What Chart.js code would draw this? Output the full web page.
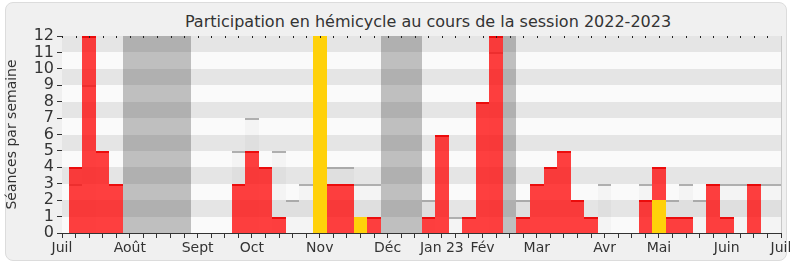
<!DOCTYPE html>
<html>
<head>
<meta charset="utf-8">
<script src="https://cdn.jsdelivr.net/npm/chart.js@4/dist/chart.umd.min.js"></script>
<style>
html, body { margin: 0; padding: 0; background: #fff; overflow: hidden; }
#cadre { position: relative; width: 790px; height: 267px; }
#panneau { position: absolute; left: 5px; top: 2px; width: 780px; height: 257px; background: #f0f0f0; border: 1px solid #dcdcdc; border-radius: 8px; }
#titre { position: absolute; left: 428px; top: 12px; transform: translateX(-50%); white-space: nowrap; font: 16px "DejaVu Sans"; line-height: 19px; color: #333; }
canvas { position: absolute; left: 0; top: 0; }
</style>
</head>
<body>
<div id="cadre">
  <div id="panneau"></div>
  <div id="titre">Participation en hémicycle au cours de la session 2022-2023</div>
  <canvas id="graphe" width="790" height="267"></canvas>
</div>
<script>
// Une entrée par semaine, de juillet 2022 à juillet 2023
const semaines = [
    'Juil', '', '', '', '', 'Août', '', '', '', '', 'Sept', '', '', '', 'Oct', '', '', '', '',
    'Nov', '', '', '', '', 'Déc', '', '', '', 'Jan 23', '', '', 'Fév', '', '', '', 'Mar',
    '', '', '', '', 'Avr', '', '', '', 'Mai', '', '', '', '', 'Juin', '', '', '', 'Juil',
];

// Séances où le député était présent
const presences = [
    null, 4, 12, 5, 3, null, null, null, null, null, null, null, null, 3, 5, 4, 1, null,
    null, null, 3, 3, null, 1, null, null, null, 1, 6, null, 1, 8, 12, null, 1, 3,
    4, 5, 2, 1, null, null, null, 2, 4, 1, 1, null, 3, 1, null, 3, null, null,
];

// Semaines avec intervention (jaune)
const interventions = [
    null, null, null, null, null, null, null, null, null, null, null, null, null, null, null, null, null, null,
    null, 12, null, null, 1, null, null, null, null, null, null, null, null, null, null, null, null, null,
    null, null, null, null, null, null, null, null, 2, null, null, null, null, null, null, null, null, null,
];

// Médiane des députés (barres claires)
const mediane = [
    null, 3, 9, null, null, null, null, null, null, null, null, null, null, 5, 7, null, 5, 2,
    3, null, 4, 4, 3, 3, null, null, null, 2, null, 1, null, null, 11, null, 2, null,
    null, null, null, null, 3, null, null, 3, null, 2, 3, 2, 3, 3, 3, 3, 3, 3,
];

// Vacances parlementaires
const vacances = [
    null, null, null, null, null, 12, 12, 12, 12, 12, null, null, null, null, null, null, null, null,
    null, null, null, null, null, null, 12, 12, 12, null, null, null, null, null, null, 12, null, null,
    null, null, null, null, null, null, null, null, null, null, null, null, null, null, null, null, null, null,
];

const graduations = [0, 1, 2, 3, 4, 5, 6, 7, 8, 9, 10, 11, 12];

Chart.defaults.font.family = '"DejaVu Sans", Verdana, sans-serif';
Chart.defaults.color = '#333';

// barres calées sur les pixels entiers, sinon on voit des coutures entre semaines
const dessinBarre = Chart.BarElement.prototype.draw;
Chart.BarElement.prototype.draw = function (ctx) {
    const { x, y, width, base, inflateAmount } = this;
    const g = Math.round(x - width / 2), d = Math.round(x + width / 2);
    this.x = (g + d) / 2;
    this.width = d - g;
    this.y = Math.round(y);
    this.base = Math.round(base);
    this.inflateAmount = 0;
    dessinBarre.call(this, ctx);
    Object.assign(this, { x, y, width, base, inflateAmount });
};

// Bandes horizontales du fond + petits repères en haut
const bandes = {
    id: 'bandes',
    beforeDatasetsDraw(chart) {
        const { ctx, chartArea: a, scales: { y } } = chart;
        ctx.save();
        for (let v = 0; v < graduations.length - 1; v++) {
            const haut = Math.round(y.getPixelForValue(graduations[v + 1]));
            const bas = Math.round(y.getPixelForValue(graduations[v]));
            ctx.fillStyle = v % 2 ? '#e5e5e5' : '#fafafa';
            ctx.fillRect(a.left, haut, a.right - a.left, bas - haut);
        }
        ctx.restore();
    },
    afterDraw(chart) {
        const { ctx, chartArea: a, scales: { x } } = chart;
        ctx.save();
        ctx.fillStyle = '#222';
        x.ticks.forEach((t, i) => {
            const px = Math.round(x.getPixelForTick(i));
            ctx.fillRect(px, a.top, 1, 2);
        });
        ctx.strokeStyle = '#c8c8c8';
        ctx.lineWidth = 1;
        ctx.beginPath();
        ctx.moveTo(a.right + 0.5, a.top);
        ctx.lineTo(a.right + 0.5, a.bottom);
        ctx.stroke();
        ctx.restore();
    },
};

const commun = { barPercentage: 1, categoryPercentage: 1, borderSkipped: 'bottom', inflateAmount: 0 };

new Chart(document.getElementById('graphe'), {
    type: 'bar',
    data: {
        labels: semaines,
        datasets: [
            { ...commun, label: 'vacances', data: vacances, order: 0,
              backgroundColor: 'rgba(40,40,40,0.28)', borderWidth: 0 },
            { ...commun, label: 'interventions', data: interventions, order: 1,
              backgroundColor: '#ffd10a', borderWidth: 0 },
            { ...commun, label: 'présences', data: presences, order: 2,
              backgroundColor: 'rgba(255,10,10,0.78)', borderColor: 'rgba(235,0,0,0.95)',
              borderWidth: { top: 2, left: 0, right: 0, bottom: 0 } },
            { ...commun, label: 'médiane', data: mediane, order: 3,
              backgroundColor: 'rgba(0,0,0,0.025)', borderColor: 'rgba(150,150,150,0.75)',
              borderWidth: { top: 2, left: 0, right: 0, bottom: 0 } },
        ],
    },
    options: {
        responsive: false,
        animation: false,
        grouped: false,
        layout: { padding: { left: 4, right: 9, top: 36, bottom: 0 } },
        plugins: { legend: { display: false }, tooltip: { enabled: false }, title: { display: false } },
        scales: {
            x: {
                type: 'category',
                offset: false,
                grid: { offset: false, drawOnChartArea: false, tickLength: 5, color: '#333' },
                border: { color: '#333', width: 1 },
                ticks: { autoSkip: false, maxRotation: 0, minRotation: 0, padding: 2, color: '#333', font: { size: 14 } },
                afterFit: (s) => { s.height = 34; s.paddingLeft = 0; s.paddingRight = 0; },
            },
            y: {
                min: 0,
                max: 12,
                afterBuildTicks: (s) => { s.ticks = graduations.map((v) => ({ value: v })); },
                grid: { drawOnChartArea: false, tickLength: 5, color: '#333' },
                border: { color: '#333', width: 1 },
                ticks: { autoSkip: false, padding: 3, color: '#333', font: { size: 16 } },
                title: { display: true, text: 'Séances par semaine', color: '#333', font: { size: 14 }, padding: 0 },
                afterFit: (s) => { s.width = 58; },
            },
        },
    },
    plugins: [bandes],
});
</script>
</body>
</html>
